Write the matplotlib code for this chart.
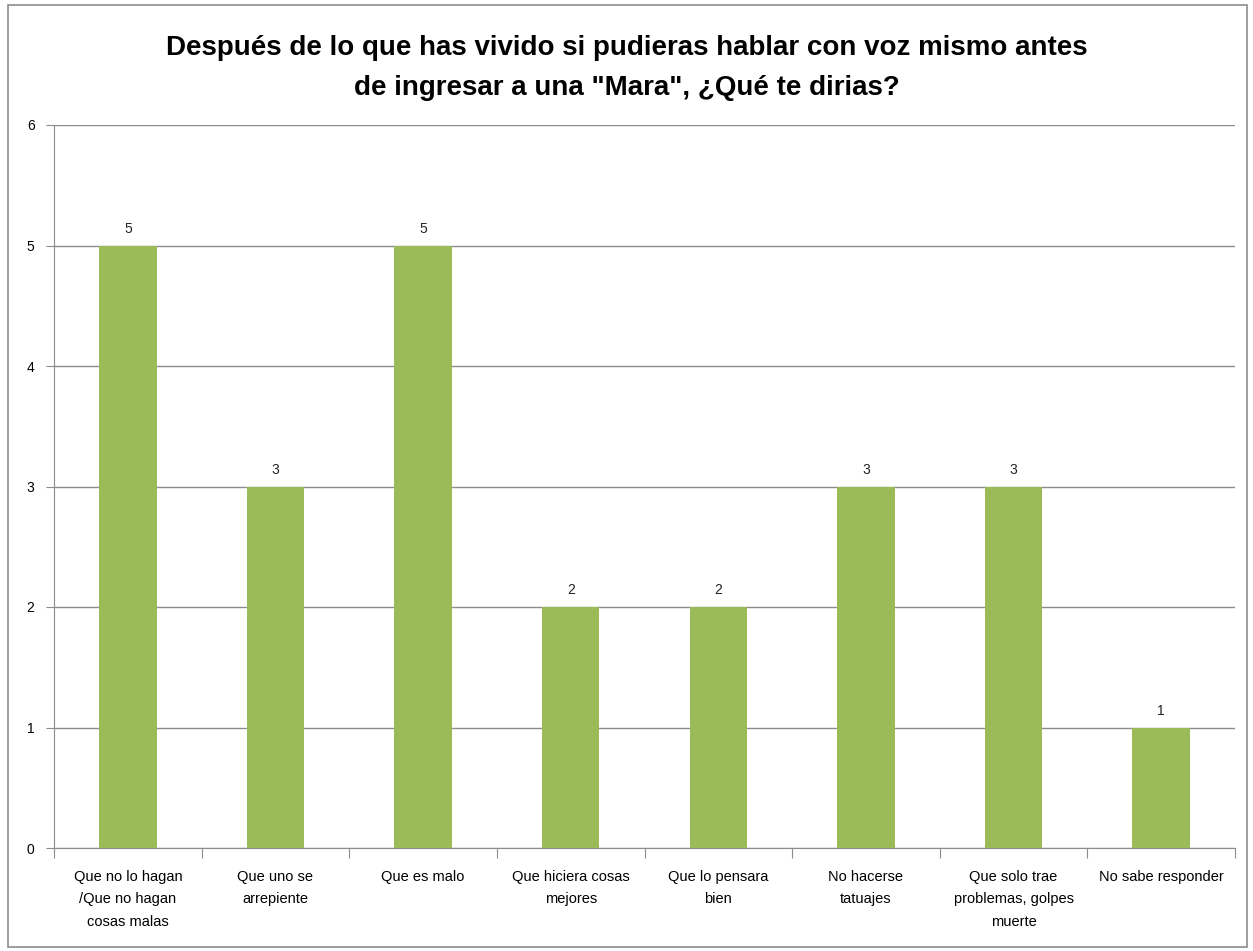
import matplotlib.pyplot as plt
from matplotlib.patches import Rectangle

# Datos de la gráfica
categorias = ['Que no lo hagan\n/Que no hagan\ncosas malas', 'Que uno se\narrepiente',
              'Que es malo', 'Que hiciera cosas\nmejores', 'Que lo pensara\nbien',
              'No hacerse\ntatuajes', 'Que solo trae\nproblemas, golpes\nmuerte',
              'No sabe responder']
valores = [5, 3, 5, 2, 2, 3, 3, 1]
titulo = 'Después de lo que has vivido si pudieras hablar con voz mismo antes\nde ingresar a una "Mara", ¿Qué te dirias?'

plt.rcParams['font.family'] = ['Liberation Sans', 'DejaVu Sans']

fig = plt.figure(figsize=(12.53, 9.51), dpi=100)
ax = fig.add_axes([54/1253, 1 - 848/951, (1235 - 54)/1253, (848 - 125)/951])

# borde exterior del gráfico
fig.patches.append(Rectangle((8/1253, 4/951), 1239/1253, 942/951, transform=fig.transFigure,
                             fill=False, edgecolor='#8c8c8c', linewidth=1.2))

pos = range(len(valores))
barras = ax.bar(pos, valores, width=0.39, color='#9BBB59', zorder=3)
for x, v in zip(pos, valores):
    ax.text(x, v + 0.08, str(v), ha='center', va='bottom', fontsize=10, color='#222222')

ax.set_xlim(-0.5, len(valores) - 0.5)
ax.set_ylim(0, 6)
ax.set_yticks(range(7))
ax.yaxis.grid(True, color='#8c8c8c', linewidth=1, zorder=0)

# ticks del eje x en los límites de las categorías
ax.set_xticks([i - 0.5 for i in range(len(valores) + 1)], minor=False)
ax.set_xticklabels([])
ax.set_xticks(list(pos), minor=True)
ax.set_xticklabels(categorias, minor=True, fontsize=10.5, linespacing=1.75)
ax.tick_params(axis='x', which='minor', length=0, pad=16)
ax.tick_params(axis='x', which='major', length=7, color='#8c8c8c')
ax.tick_params(axis='y', length=6, color='#8c8c8c', pad=8, labelsize=10)

for lado in ['top', 'right']:
    ax.spines[lado].set_visible(False)
for lado in ['left', 'bottom']:
    ax.spines[lado].set_color('#8c8c8c')

fig.text(0.5, 1 - 68/951, titulo, ha='center', va='center', fontsize=20,
         fontweight='bold', linespacing=1.7)

plt.savefig('out.png', dpi=100)
